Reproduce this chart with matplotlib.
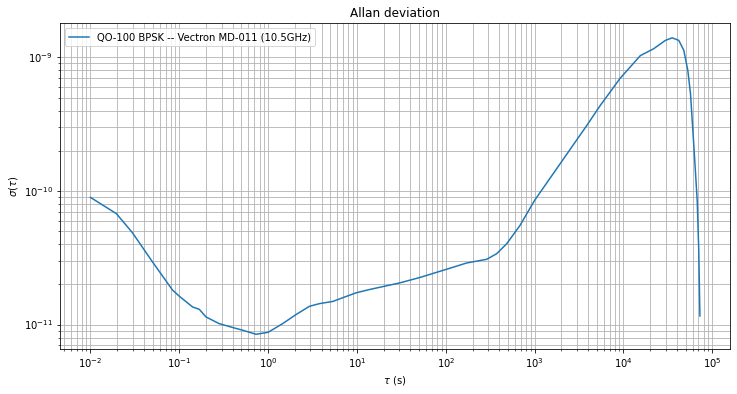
import matplotlib.pyplot as plt
import numpy as np

# tau (s) and Allan deviation
tau = [0.01, 0.0196, 0.0296, 0.05, 0.084, 0.1, 0.141, 0.168, 0.2, 0.28,
       0.4, 0.52, 0.73, 1.0, 1.46, 2.07, 2.92, 3.8, 5.36, 6.95,
       9.84, 13.9, 30.3, 51, 99.5, 172, 289, 374, 486, 686,
       1000, 1940, 3880, 5480, 9230, 15500, 21900, 29700, 35400, 42000,
       47800, 53100, 56900, 62000, 67700, 70500, 72600]
adev = [8.95e-11, 6.76e-11, 4.88e-11, 2.94e-11, 1.81e-11, 1.63e-11, 1.355e-11, 1.30e-11, 1.14e-11, 1.017e-11,
        9.5e-12, 9.06e-12, 8.46e-12, 8.75e-12, 1.017e-11, 1.19e-11, 1.37e-11, 1.435e-11, 1.49e-11, 1.59e-11,
        1.73e-11, 1.83e-11, 2.05e-11, 2.25e-11, 2.58e-11, 2.89e-11, 3.08e-11, 3.39e-11, 4.03e-11, 5.53e-11,
        8.5e-11, 1.6e-10, 3.1e-10, 4.36e-10, 7.0e-10, 1.03e-9, 1.16e-9, 1.34e-9, 1.40e-9, 1.34e-9,
        1.13e-9, 7.98e-10, 5.35e-10, 2.2e-10, 8.5e-11, 3.6e-11, 1.16e-11]

fig, ax = plt.subplots(figsize=(737 / 72, 394 / 72), dpi=72)
fig.subplots_adjust(left=0.0814, right=0.991, bottom=0.114, top=0.9416)

ax.loglog(tau, adev, label='QO-100 BPSK -- Vectron MD-011 (10.5GHz)')

ax.set_title('Allan deviation')
ax.set_xlabel(r'$\tau$ (s)')
ax.set_ylabel(r'$\sigma(\tau)$')
ax.legend(loc='upper left')
ax.grid(True, which='both')

plt.savefig('out.png', dpi=72)
